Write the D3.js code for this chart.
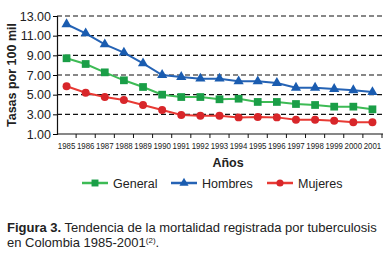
<!DOCTYPE html>
<html>
<head>
<meta charset="utf-8">
<script src="https://cdn.jsdelivr.net/npm/d3@7"></script>
<style>
  body { margin: 0; background: #fff; }
  svg { display: block; font-family: "Liberation Sans", Arial, sans-serif; }
</style>
</head>
<body>
<script>
const years = ["1985","1986","1987","1988","1989","1990","1991","1992","1993","1994","1995","1996","1997","1998","1999","2000","2001"];
const general = [8.70, 8.12, 7.27, 6.46, 5.78, 5.00, 4.76, 4.76, 4.53, 4.59, 4.26, 4.26, 4.05, 3.95, 3.78, 3.78, 3.51];
const hombres = [12.16, 11.24, 10.12, 9.27, 8.19, 7.00, 6.80, 6.63, 6.63, 6.36, 6.36, 6.19, 5.71, 5.71, 5.58, 5.45, 5.27];
const mujeres = [5.85, 5.20, 4.76, 4.46, 3.95, 3.44, 2.93, 2.86, 2.86, 2.69, 2.73, 2.69, 2.45, 2.45, 2.35, 2.19, 2.19];
const yTicks = [1, 3, 5, 7, 9, 11, 13];

const width = 392, height = 261;
const svg = d3.select("body").append("svg").attr("width", width).attr("height", height);

const x = d3.scaleBand().domain(years).range([57, 382]);
const y = d3.scaleLinear().domain([1, 13]).range([134, 16]);

// grid
svg.append("g").selectAll("line").data(yTicks.slice(1)).enter().append("line")
    .attr("x1", 57).attr("x2", 383)
    .attr("y1", d => y(d)).attr("y2", d => y(d))
    .attr("stroke", "#111").attr("stroke-width", 1.1).attr("stroke-dasharray", "5,3");

// y axis
const yAxis = svg.append("g").attr("transform", "translate(57,0)")
    .call(d3.axisLeft(y).tickValues(yTicks).tickFormat(d3.format(".2f")).tickSize(4).tickPadding(2));
yAxis.select(".domain").attr("stroke", "#111").attr("stroke-width", 1.2);
yAxis.selectAll("text").attr("font-size", 12.5).attr("fill", "#222");

// x axis, ticks at band boundaries
svg.append("line").attr("x1", 57).attr("x2", 383).attr("y1", 134).attr("y2", 134)
    .attr("stroke", "#111").attr("stroke-width", 1.2);
svg.append("g").selectAll("line").data(years).enter().append("line")
    .attr("x1", d => x(d) + x.bandwidth()).attr("x2", d => x(d) + x.bandwidth())
    .attr("y1", 134).attr("y2", 138).attr("stroke", "#111");
svg.append("g").selectAll("text").data(years).enter().append("text")
    .attr("x", d => x(d) + x.bandwidth() / 2).attr("y", 149)
    .attr("text-anchor", "middle")
    .attr("font-size", 9.5).attr("fill", "#222")
    .attr("textLength", 17.5).attr("lengthAdjust", "spacingAndGlyphs")
    .text(d => d);

// titles
svg.append("text").attr("transform", "translate(16,75) rotate(-90)")
    .attr("text-anchor", "middle").attr("font-weight", "bold").attr("font-size", 12.5).attr("fill", "#222")
    .text("Tasas por 100 mil");
svg.append("text").attr("x", 228).attr("y", 167).attr("text-anchor", "middle")
    .attr("font-weight", "bold").attr("font-size", 12.5).attr("fill", "#222").text("Años");

const series = [
  {name: "General", values: general, line: "#3dbb55", fill: "#1a9e47", shape: d3.symbolSquare, size: 60, lx: 82},
  {name: "Hombres", values: hombres, line: "#2563b5", fill: "#1a5cb0", shape: d3.symbolTriangle, size: 45, lx: 171},
  {name: "Mujeres", values: mujeres, line: "#e83a34", fill: "#d8262a", shape: d3.symbolCircle, size: 50, lx: 267}
];

const line = d3.line().x((d, i) => x(years[i]) + x.bandwidth() / 2).y(d => y(d));

series.forEach(s => {
  svg.append("path").datum(s.values).attr("d", line)
      .attr("fill", "none").attr("stroke", s.line).attr("stroke-width", 2);
  svg.append("g").selectAll("path").data(s.values).enter().append("path")
      .attr("transform", (d, i) => `translate(${x(years[i]) + x.bandwidth() / 2},${y(d)})`)
      .attr("d", d3.symbol().type(s.shape).size(s.size))
      .attr("fill", s.fill);
  // legend
  const g = svg.append("g").attr("transform", `translate(${s.lx},183)`);
  g.append("line").attr("x1", 0).attr("x2", 26).attr("stroke", s.line).attr("stroke-width", 2.5);
  g.append("path").attr("transform", "translate(13,0)")
      .attr("d", d3.symbol().type(s.shape).size(s.size * 0.8)).attr("fill", s.fill);
  g.append("text").attr("x", 31).attr("y", 4.5).attr("font-size", 12.5).attr("fill", "#222").text(s.name);
});

// caption
const cap = svg.append("text").attr("x", 7).attr("y", 232).attr("font-size", 13).attr("fill", "#222");
cap.append("tspan").attr("font-weight", "bold").text("Figura 3.");
cap.append("tspan").text(" Tendencia de la mortalidad registrada por tuberculosis");
const cap2 = svg.append("text").attr("x", 7).attr("y", 247).attr("font-size", 13).attr("fill", "#222");
cap2.append("tspan").text("en Colombia 1985-2001");
cap2.append("tspan").attr("font-size", 8).attr("dy", -4).text("(2)");
cap2.append("tspan").attr("dy", 4).text(".");
</script>
</body>
</html>
